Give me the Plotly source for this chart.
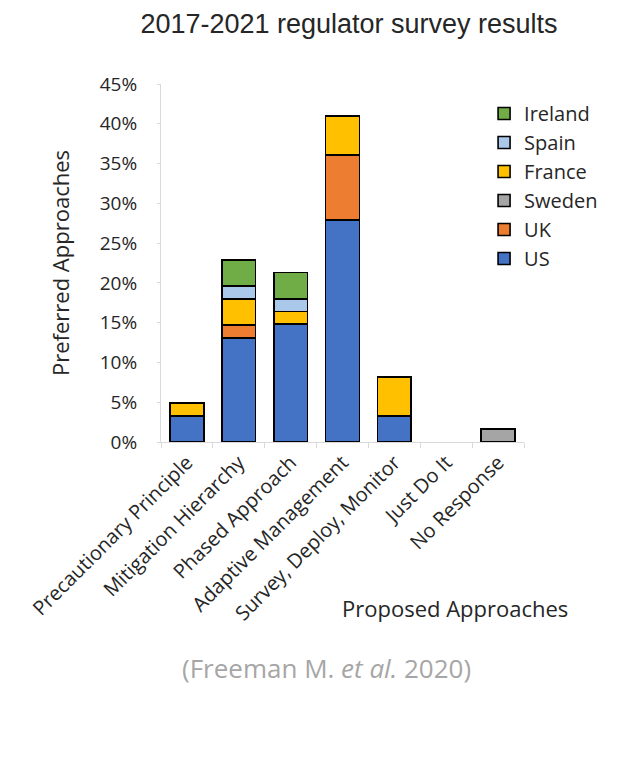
import plotly.graph_objects as go

categories = ["Precautionary Principle", "Mitigation Hierarchy", "Phased Approach",
              "Adaptive Management", "Survey, Deploy, Monitor", "Just Do It", "No Response"]

# percentages of respondents (stacked by country); None = no response from that country
us      = [3.3, 13.1, 14.8, 27.9, 3.3, None, None]
uk      = [None, 1.6, None, 8.2, None, None, None]
sweden  = [None, None, None, None, None, None, 1.6]
france  = [1.6, 3.3, 1.6, 4.9, 4.9, None, None]
spain   = [None, 1.6, 1.6, None, None, None, None]
ireland = [None, 3.3, 3.3, None, None, None, None]

series = [("US", us, "#4472C4"), ("UK", uk, "#ED7D31"), ("Sweden", sweden, "#A5A5A5"),
          ("France", france, "#FFC000"), ("Spain", spain, "#A9C8EA"), ("Ireland", ireland, "#70AD47")]

tick_vals = [0, 5, 10, 15, 20, 25, 30, 35, 40, 45]
tick_text = [f"{v}%" for v in tick_vals]

FONT = "Open Sans"

fig = go.Figure()
n = len(series)
for i, (name, vals, col) in enumerate(series):
    fig.add_trace(go.Bar(
        x=categories, y=vals, name=name, legendrank=n - i,
        marker=dict(color=col, line=dict(color="#000000", width=1.6)),
        width=0.65,
    ))

fig.update_layout(
    barmode="stack",
    width=621, height=779,
    paper_bgcolor="white", plot_bgcolor="white",
    margin=dict(l=161, r=97, t=84, b=337),
    title=dict(text="2017-2021 regulator survey results", x=0.562, xanchor="center",
               y=1 - 24/779, yanchor="middle", yref="container",
               font=dict(family="Liberation Sans, Arial", size=27, color="#262626")),
    legend=dict(x=0.89, xanchor="left", y=0.972, yanchor="top", traceorder="normal",
                font=dict(family=FONT, size=20, color="#262626"),
                bgcolor="rgba(0,0,0,0)"),
    font=dict(family=FONT, color="#262626"),
    xaxis=dict(showline=True, linecolor="#D9D9D9", linewidth=1,
               ticks="outside", tickson="boundaries", ticklen=5, tickcolor="#D9D9D9",
               tickangle=-45, tickfont=dict(family=FONT, size=20, color="#262626"),
               showgrid=False, range=[-0.5, 6.5]),
    yaxis=dict(range=[0, 45], tickvals=tick_vals, ticktext=tick_text,
               showline=True, linecolor="#D9D9D9", linewidth=1,
               ticks="outside", ticklen=3, tickcolor="#D9D9D9", ticklabelstandoff=16,
               showgrid=False, zeroline=False,
               tickfont=dict(family=FONT, size=19, color="#262626"),
               title=dict(text="Preferred Approaches", standoff=24,
                          font=dict(family=FONT, size=22, color="#262626"))),
    annotations=[
        dict(text="Proposed Approaches", xref="paper", yref="paper",
             x=(455 - 161) / 363, y=(442 - 608) / 358, xanchor="center", yanchor="middle",
             showarrow=False, font=dict(family=FONT, size=22, color="#262626")),
        dict(text="(Freeman M. <i>et al.</i> 2020)", xref="paper", yref="paper",
             x=(326 - 161) / 363, y=(442 - 668) / 358, xanchor="center", yanchor="middle",
             showarrow=False, font=dict(family=FONT, size=26, color="#A6A6A6")),
    ],
)

fig.write_html("out.html")
